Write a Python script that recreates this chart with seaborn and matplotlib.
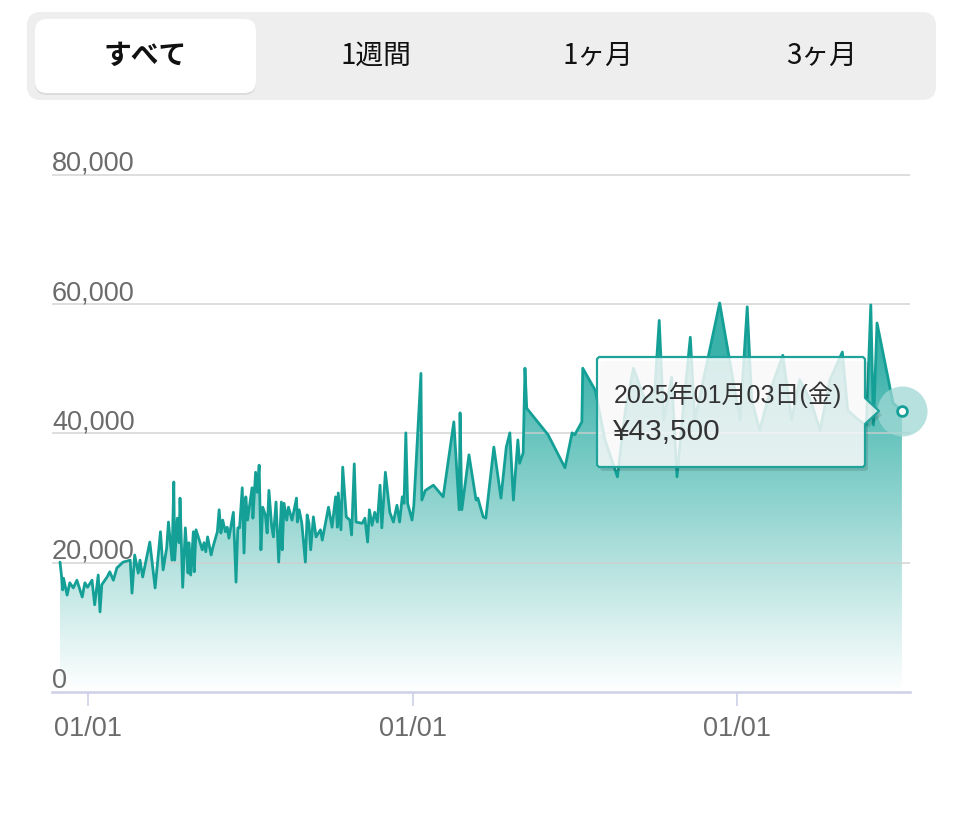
import numpy as np
import pandas as pd
import matplotlib
matplotlib.use("Agg")
import matplotlib.pyplot as plt
import seaborn as sns
import matplotlib.transforms as mtransforms
from matplotlib.patches import FancyBboxPatch, Polygon
from matplotlib.colors import LinearSegmentedColormap

# ---------------- data ----------------
days = [0, 2, 3, 4, 8, 11, 15, 19, 25, 28, 31, 36, 39, 42, 43, 45, 47, 53, 56, 60,
        64, 71, 79, 81, 84, 88, 90, 93, 101, 107, 113, 116, 120, 122, 126, 128, 129, 132, 134, 135,
        138, 141, 144, 145, 147, 150, 151, 153, 156, 160, 162, 164, 166, 170, 172, 177, 179, 181, 183, 186,
        188, 190, 195, 198, 200, 202, 205, 207, 209, 211, 216, 217, 220, 222, 224, 226, 228, 231, 233, 235,
        238, 240, 243, 246, 249, 250, 252, 255, 257, 261, 266, 267, 269, 272, 276, 278, 280, 282, 285, 288,
        293, 295, 302, 306, 310, 312, 313, 316, 318, 322, 326, 328, 331, 333, 340, 343, 346, 348, 351, 354,
        357, 360, 362, 366, 371, 375, 379, 382, 385, 387, 389, 391, 396, 398, 406, 407, 411, 420, 431, 443,
        449, 450, 452, 460, 468, 470, 476, 479, 488, 496, 502, 506, 510, 515, 517, 521, 523, 525, 549, 568,
        576, 579, 587, 588, 602, 613, 627, 636, 645, 658, 669, 674, 679, 688, 694, 702, 709, 714, 726, 742,
        757, 765, 773, 778, 787, 799, 813, 823, 832, 844, 855, 866, 880, 886, 898, 907, 912, 915, 919, 937,
        947]
values = [20100, 17600, 15800, 17600, 15000, 16900, 16100, 17300, 14700, 16900, 16200, 17300, 13500, 16900, 18100, 12400, 16600, 17800, 18600, 17300,
          19200, 20100, 20400, 15300, 21200, 18400, 20400, 17800, 23200, 16100, 24800, 18900, 22300, 26300, 20400, 32500, 20400, 26900, 23100, 30000,
          16200, 25400, 18400, 23100, 18100, 24800, 18600, 25100, 23800, 22000, 23100, 21700, 24000, 21200, 22400, 24800, 28200, 24600, 26600, 24800,
          25500, 23800, 27800, 17000, 25400, 25400, 31600, 21500, 30200, 26600, 31600, 26900, 34000, 30900, 35100, 22000, 28600, 27400, 24600, 31200,
          25800, 24000, 29400, 20100, 29400, 22000, 29200, 26600, 28600, 26600, 30000, 26300, 28200, 26100, 20100, 27400, 26100, 22000, 27100, 24000,
          25100, 23500, 28600, 25500, 30200, 25500, 30800, 25100, 34800, 27100, 26600, 24300, 35300, 26300, 26100, 26900, 23200, 28200, 25800, 27800,
          26300, 32000, 25400, 34000, 27800, 26300, 28900, 26300, 30200, 29200, 40100, 29200, 26600, 28900, 49300, 29700, 31200, 32000, 30200, 41800,
          28200, 43200, 28200, 36700, 29700, 30000, 27100, 26900, 37900, 30000, 37900, 40100, 29700, 39000, 35400, 37000, 50100, 43900, 39800, 34700,
          40100, 39800, 41800, 50100, 46700, 39000, 33300, 43600, 50100, 45200, 46700, 57500, 42100, 48700, 33300, 45200, 54900, 42100, 49800, 60200,
          48300, 42100, 59600, 45200, 40500, 46700, 52100, 42100, 48300, 45200, 40500, 48300, 52600, 43600, 42100, 41300, 59900, 41300, 57100, 44700,
          43500]
tick_days = [31, 397, 762]
tick_labels = ["01/01", "01/01", "01/01"]
y_ticks = [0, 20000, 40000, 60000, 80000]
tabs = ["すべて", "1週間", "1ヶ月", "3ヶ月"]
tooltip_date = "2025年01月03日(金)"
tooltip_value = "¥43,500"

df = pd.DataFrame({"day": days, "value": values})

# ---------------- style ----------------
sns.set_theme(style="white")
plt.rcParams['font.family'] = ['Liberation Sans', 'Noto Sans CJK JP', 'DejaVu Sans']

W, H = 974, 830
fig = plt.figure(figsize=(W / 100, H / 100), dpi=100)
fig.patch.set_facecolor("white")

ax = fig.add_axes([52 / W, (H - 692) / H, (910 - 52) / W, (692 - 160) / H])
ax.set_facecolor("white")
xl, xr = -9.0, 956.1
ytop = 82321
ax.set_xlim(xl, xr)
ax.set_ylim(0, ytop)

TEAL = "#14A096"

# gradient fill under the line
poly = ax.fill_between(df["day"], df["value"], 0, color="none", linewidth=0)
grad = np.clip(np.linspace(0, ytop, 400) / 52000, 0, 1).reshape(-1, 1)
cmap = LinearSegmentedColormap.from_list("g", ["#FFFFFF", "#3AB2AA"])
im = ax.imshow(grad, extent=[xl, xr, 0, ytop], origin="lower", aspect="auto",
               cmap=cmap, vmin=0, vmax=1, zorder=1)
im.set_clip_path(poly.get_paths()[0], transform=ax.transData)

# gridlines
for v in y_ticks[1:]:
    ax.axhline(v, color="#CFCFCF", lw=1.4, alpha=0.7, zorder=2)

# line
sns.lineplot(data=df, x="day", y="value", ax=ax, color=TEAL, lw=2.0, zorder=3)

# y labels above gridlines
trans = mtransforms.blended_transform_factory(ax.transAxes, ax.transData)
trans = mtransforms.offset_copy(trans, fig=fig, x=0, y=4, units="dots")
for v in y_ticks:
    ax.text(0, v, f"{v:,}", transform=trans, ha="left", va="baseline",
            fontsize=19.5, color="#6B6B6B", zorder=4)

# axes
for s in ["top", "right", "left"]:
    ax.spines[s].set_visible(False)
ax.spines["bottom"].set_color("#CDD0E6")
ax.spines["bottom"].set_linewidth(1.8)
ax.set_yticks([])
ax.set_xticks(tick_days, tick_labels)
ax.tick_params(axis="x", bottom=True, length=10, width=1.2, color="#CDD0E6",
               labelsize=19.5, labelcolor="#6B6B6B", pad=7)
ax.set_xlabel("")
ax.set_ylabel("")

# end point halo + dot
ax.scatter([days[-1]], [values[-1]], s=1300, color="#9FD8D5", alpha=0.75,
           linewidths=0, zorder=5, clip_on=False)
ax.scatter([days[-1]], [values[-1]], s=50, facecolor="white", edgecolor=TEAL,
           linewidths=2, zorder=6, clip_on=False)

# ---------------- overlay (UI) ----------------
ov = fig.add_axes([0, 0, 1, 1])
ov.set_xlim(0, W)
ov.set_ylim(H, 0)
ov.axis("off")
ov.patch.set_alpha(0)

ov.add_patch(FancyBboxPatch((27, 12), 909, 88, boxstyle="round,pad=0,rounding_size=14",
                            facecolor="#EEEEEE", edgecolor="none"))
ov.add_patch(FancyBboxPatch((35, 21), 221, 74, boxstyle="round,pad=0,rounding_size=12",
                            facecolor="#DCDCDC", edgecolor="none"))
ov.add_patch(FancyBboxPatch((35, 19), 221, 74, boxstyle="round,pad=0,rounding_size=12",
                            facecolor="white", edgecolor="none"))
tab_x = [145, 376, 598, 822]
for i, (t, x) in enumerate(zip(tabs, tab_x)):
    ov.text(x, 56, t, ha="center", va="center", fontsize=20,
            family=["Noto Sans CJK JP"], color="#111111",
            fontweight="bold" if i == 0 else "normal")

# tooltip
pts = [(599, 357), (863, 357), (865, 359), (865, 398), (879, 411), (865, 424),
       (865, 465), (863, 467), (599, 467), (597, 465), (597, 359)]
shadow = [(x + 3, y + 4) for x, y in pts]
ov.add_patch(Polygon(shadow, closed=True, facecolor="black", alpha=0.12, edgecolor="none"))
ov.add_patch(Polygon(pts, closed=True, facecolor=(1, 1, 1, 0.82), edgecolor="#1FA39A",
                     lw=1.6, joinstyle="round"))
ov.text(614, 395, tooltip_date, ha="left", va="center", fontsize=18, color="#333333",
        family=["Liberation Sans", "Noto Sans CJK JP"])
ov.text(613, 432, tooltip_value, ha="left", va="center", fontsize=21.5, color="#333333",
        family=["Liberation Sans", "Noto Sans CJK JP"])

fig.savefig("out.png", dpi=100, facecolor="white")
